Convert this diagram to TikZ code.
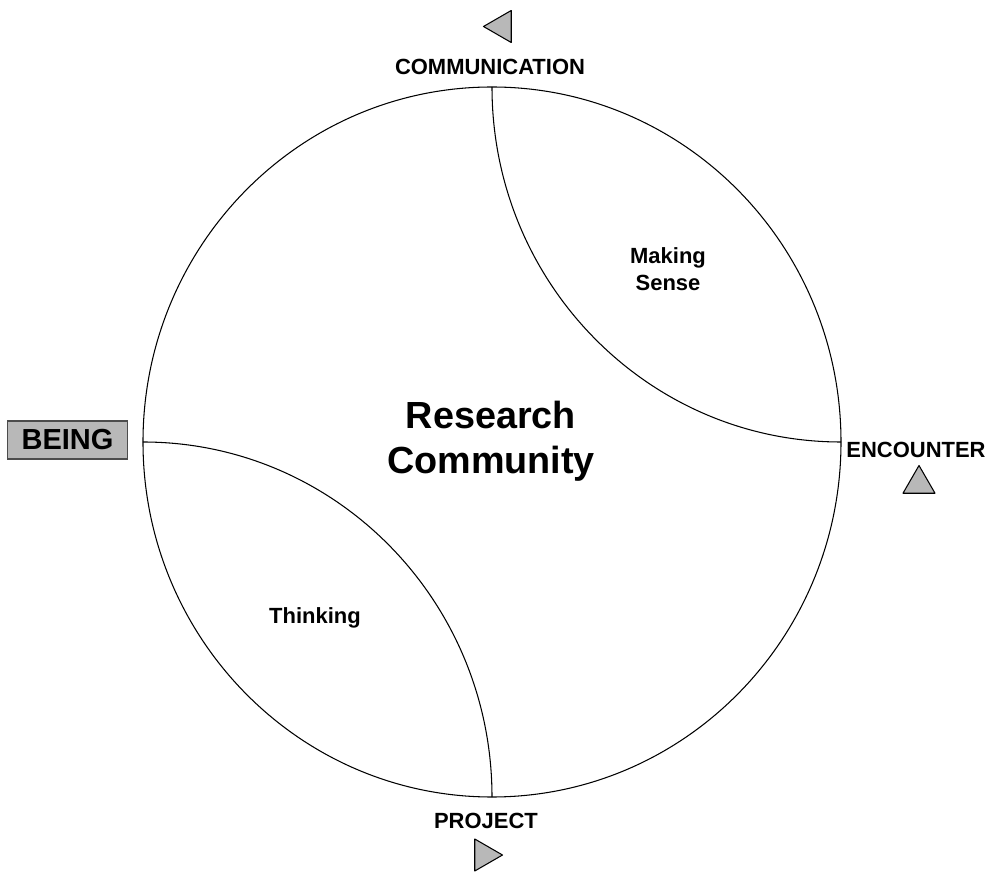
\documentclass[tikz,border=0pt]{standalone}
\usepackage{fontspec}
\setmainfont{Liberation Sans}

\begin{document}
\begin{tikzpicture}[
    line width=0.6pt,
    label/.style={font=\fontsize{12.5}{15}\selectfont\bfseries, align=center},
    marker/.style={fill=black!28, draw=black, line join=round},
    beingbox/.style={fill=black!28, draw=black!70, minimum width=2.4cm,
        minimum height=0.76cm, inner sep=0pt,
        font=\fontsize{16.5}{18}\selectfont\bfseries}
]
    \def\rx{6.98cm}
    \def\ry{7.1cm}

    \useasboundingbox (-9.84,-8.6) rectangle (9.94,8.84);

    %circulo e arcos
    \draw (0,0) ellipse[x radius=\rx, y radius=\ry];
    \draw (0,\ry) arc[start angle=180, end angle=270, x radius=\rx, y radius=\ry];
    \draw (-\rx,0) arc[start angle=90, end angle=0, x radius=\rx, y radius=\ry];

    \node[label, font=\fontsize{21.5}{25.5}\selectfont\bfseries] (community) at (-0.02,0.02)
        {Research\\Community};
    \node[label] (sense) at (3.52,3.46) {Making\\Sense};
    \node[label] (thinking) at (-3.54,-3.52) {Thinking};

    \foreach \name/\pos/\text in {
        communication/{(-0.04,7.5)}/COMMUNICATION,
        encounter/{(8.48,-0.15)}/ENCOUNTER,
        project/{(-0.06,-7.58)}/PROJECT
    } {
        \node[label] (\name) at \pos {\text};
    }

    \node[beingbox] (being) at (-8.49,0.04) {BEING};

    %triangulos
    \foreach \pos/\rot in {{(0.20,8.31)}/180, {(8.54,-0.84)}/90, {(-0.16,-8.26)}/0} {
        \filldraw[marker, shift={\pos}, rotate=\rot]
            (0:0.37) -- (120:0.37) -- (240:0.37) -- cycle;
    }
\end{tikzpicture}
\end{document}
